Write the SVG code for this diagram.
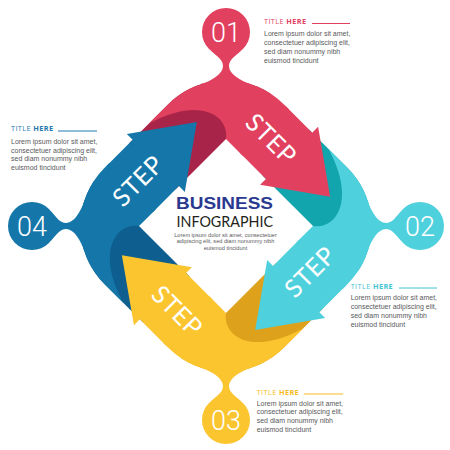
<svg xmlns="http://www.w3.org/2000/svg" xmlns:xlink="http://www.w3.org/1999/xlink" width="450" height="450" viewBox="0 0 450 450">
<style>
.red{fill:#E2405F}.redd{fill:#A92449}
.cyan{fill:#4FD0DD}.cyand{fill:#12A5AE}
.yel{fill:#FBC52F}.yeld{fill:#DEA11B}
.blue{fill:#1577A9}.blued{fill:#0E5F8F}
.num{font-family:Roboto,"Liberation Sans",sans-serif;font-weight:300;font-size:27px;fill:#fff;text-anchor:middle}
.step{font-family:Lato,"Open Sans",sans-serif;font-size:25px;fill:#fff;text-anchor:middle;dominant-baseline:central;letter-spacing:0.5px}
.title{font-family:"Open Sans","Liberation Sans",sans-serif;font-size:7.3px;letter-spacing:0.4px}
.body{font-family:"Liberation Sans",sans-serif;font-size:7px;fill:#58595B}
.small{font-family:"Liberation Sans",sans-serif;font-size:5.6px;fill:#58595B;text-anchor:middle}
</style>
<defs>
<path id="tail" d="M-127,10 L-127,-45 A82,82 0 0 1 -61.5,-125.3 L-61.5,10 Z"/>
<path id="corner" d="M-127,-18 L-127,-45 A82,82 0 0 1 -45,-127 L-38,-127 L-38,-61.5 L-61.5,-61.5 C-75,-80 -110,-75 -127,-18 Z"/>
<path id="head" d="M-42,-127 L-5,-127 L-5,-135.25 L53,-94.25 L-5,-53.25 L-5,-61.5 L-42,-61.5 Z"/>
<path id="neck" d="M-15,-175.3 C-8,-169 -3,-166 -3,-160 C-3,-152 -14,-145.4 -26,-141.4 L26,-141.4 C14,-145.4 3,-152 3,-160 C3,-166 8,-169 15,-175.3 Z"/>
</defs>

<g id="connectors">
  <g id="tails">
    <use xlink:href="#tail" class="redd" transform="translate(226,226) rotate(45)"/>
    <use xlink:href="#tail" class="cyand" transform="translate(226,226) rotate(135)"/>
    <use xlink:href="#tail" class="yeld" transform="translate(226,226) rotate(225)"/>
    <use xlink:href="#tail" class="blued" transform="translate(226,226) rotate(315)"/>
  </g>
  <g id="corners">
    <use xlink:href="#corner" class="red" transform="translate(226,226) rotate(45)"/>
    <use xlink:href="#corner" class="cyan" transform="translate(226,226) rotate(135)"/>
    <use xlink:href="#corner" class="yel" transform="translate(226,226) rotate(225)"/>
    <use xlink:href="#corner" class="blue" transform="translate(226,226) rotate(315)"/>
    <use xlink:href="#neck" class="red" transform="translate(226,226)"/>
    <use xlink:href="#neck" class="cyan" transform="translate(226,226) rotate(90)"/>
    <use xlink:href="#neck" class="yel" transform="translate(226,226) rotate(180)"/>
    <use xlink:href="#neck" class="blue" transform="translate(226,226) rotate(270)"/>
  </g>
  <g id="heads">
    <use xlink:href="#head" class="red" transform="translate(226,226) rotate(45)"/>
    <use xlink:href="#head" class="cyan" transform="translate(226,226) rotate(135)"/>
    <use xlink:href="#head" class="yel" transform="translate(226,226) rotate(225)"/>
    <use xlink:href="#head" class="blue" transform="translate(226,226) rotate(315)"/>
  </g>
  <g id="step-labels">
    <text class="step" transform="translate(272,138) rotate(45)">STEP</text>
    <text class="step" transform="translate(309,271) rotate(-45)">STEP</text>
    <text class="step" transform="translate(178,310) rotate(45)">STEP</text>
    <text class="step" transform="translate(137,180) rotate(-45)">STEP</text>
  </g>
</g>

<g id="center">
  <text x="176" y="209" font-family="'Liberation Sans',sans-serif" font-weight="bold" font-size="17" fill="#2A3990" textLength="97" lengthAdjust="spacingAndGlyphs">BUSINESS</text>
  <text x="176.5" y="227" font-family="Lato,'Liberation Sans',sans-serif" font-size="14.5" fill="#231F20" textLength="96.5" lengthAdjust="spacingAndGlyphs">INFOGRAPHIC</text>
  <text class="small" x="225.5" y="236.5">Lorem ipsum dolor sit amet, consectetuer</text>
  <text class="small" x="225.5" y="243">adipiscing elit, sed diam nonummy nibh</text>
  <text class="small" x="225.5" y="249.8">euismod tincidunt</text>
</g>

<g id="step-01">
  <circle cx="226" cy="32" r="24" class="red"/>
  <text class="num" x="226" y="41.5">01</text>
  <text class="title" x="264" y="24" fill="#E2405F">TITLE <tspan font-weight="bold">HERE</tspan></text>
  <line x1="312" y1="23.5" x2="350" y2="23.5" stroke="#E2405F" stroke-width="1"/>
  <text class="body" x="264" y="35.5">Lorem ipsum dolor sit amet,</text>
  <text class="body" x="264" y="44.7">consectetuer adipiscing elit,</text>
  <text class="body" x="264" y="53.8">sed diam nonummy nibh</text>
  <text class="body" x="264" y="62.8">euismod tincidunt</text>
</g>

<g id="step-02">
  <circle cx="420" cy="226" r="24" class="cyan"/>
  <text class="num" x="420" y="235.5">02</text>
  <text class="title" x="350.7" y="288.5" fill="#3FC4D4">TITLE <tspan font-weight="bold">HERE</tspan></text>
  <line x1="399" y1="288" x2="437" y2="288" stroke="#3FC4D4" stroke-width="1"/>
  <text class="body" x="350.7" y="300">Lorem ipsum dolor sit amet,</text>
  <text class="body" x="350.7" y="309">consectetuer adipiscing elit,</text>
  <text class="body" x="350.7" y="318">sed diam nonummy nibh</text>
  <text class="body" x="350.7" y="326.7">euismod tincidunt</text>
</g>

<g id="step-03">
  <circle cx="226" cy="420" r="24" class="yel"/>
  <text class="num" x="226" y="429.5">03</text>
  <text class="title" x="256.7" y="394.5" fill="#F7BA22">TITLE <tspan font-weight="bold">HERE</tspan></text>
  <line x1="304" y1="394" x2="343" y2="394" stroke="#F7BA22" stroke-width="1"/>
  <text class="body" x="256.7" y="405.6">Lorem ipsum dolor sit amet,</text>
  <text class="body" x="256.7" y="414.3">consectetuer adipiscing elit,</text>
  <text class="body" x="256.7" y="423">sed diam nonummy nibh</text>
  <text class="body" x="256.7" y="431.6">euismod tincidunt</text>
</g>

<g id="step-04">
  <circle cx="32" cy="226" r="24" class="blue"/>
  <text class="num" x="32" y="235.5">04</text>
  <text class="title" x="11" y="131" fill="#1E78AD">TITLE <tspan font-weight="bold">HERE</tspan></text>
  <line x1="58" y1="131" x2="97" y2="131" stroke="#1E78AD" stroke-width="1"/>
  <text class="body" x="11" y="144">Lorem ipsum dolor sit amet,</text>
  <text class="body" x="11" y="152.5">consectetuer adipiscing elit,</text>
  <text class="body" x="11" y="161">sed diam nonummy nibh</text>
  <text class="body" x="11" y="169.5">euismod tincidunt</text>
</g>
</svg>
